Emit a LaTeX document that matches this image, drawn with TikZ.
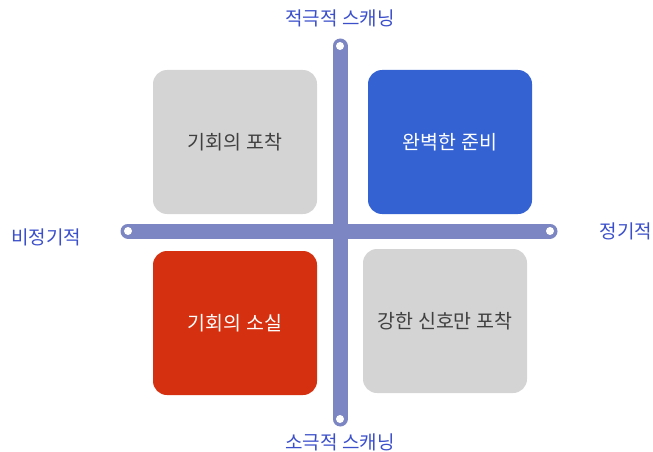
\documentclass[tikz,border=0pt]{standalone}
\usepackage{fontspec}
\setmainfont{Noto Sans CJK KR}
\usetikzlibrary{positioning}

\definecolor{barblue}{HTML}{7C86C3}
\definecolor{labelblue}{HTML}{3B4FCB}
\definecolor{cardgray}{HTML}{D4D4D4}
\definecolor{cardblue}{HTML}{3462D3}
\definecolor{cardred}{HTML}{D5300F}

\begin{document}
\begin{tikzpicture}[
  x=1pt, y=-1pt,
  card/.style={rounded corners=14pt, minimum width=164pt, minimum height=144pt,
    inner sep=0pt, font=\fontsize{19.5}{22}\selectfont},
  axislabel/.style={text=labelblue, font=\fontsize{19}{22}\selectfont, inner sep=0pt},
  axisbar/.style={draw=barblue, line width=15pt, line cap=round},
  endhole/.style={circle, fill=white, inner sep=0pt, minimum size=8pt},
]
  \useasboundingbox (0,0) rectangle (653,452);

  % quadrants
  \node[card, fill=cardgray, text=black!75] (catch) at (235,142) {기회의 포착};
  \node[card, fill=cardblue, text=white] (ready) at (450,142) {완벽한 준비};
  \node[card, fill=cardred, text=white] (loss) at (235,323) {기회의 소실};
  \node[card, fill=cardgray, text=black!75] (strong) at (445,321) {강한 신호만 포착};

  % axes
  \coordinate (top) at (340,46);
  \coordinate (bottom) at (340,419);
  \coordinate (left) at (128,231);
  \coordinate (right) at (550,231);
  \draw[axisbar] (top) -- (bottom);
  \draw[axisbar] (left) -- (right);
  \foreach \p in {top,bottom,left,right}
    \node[endhole] at (\p) {};

  % axis labels
  \node[axislabel] (active) at (340,18) {적극적 스캐닝};
  \node[axislabel] (passive) at (340,442) {소극적 스캐닝};
  \node[axislabel] (irregular) at (46,237) {비정기적};
  \node[axislabel] (regular) at (626,231) {정기적};
\end{tikzpicture}
\end{document}
